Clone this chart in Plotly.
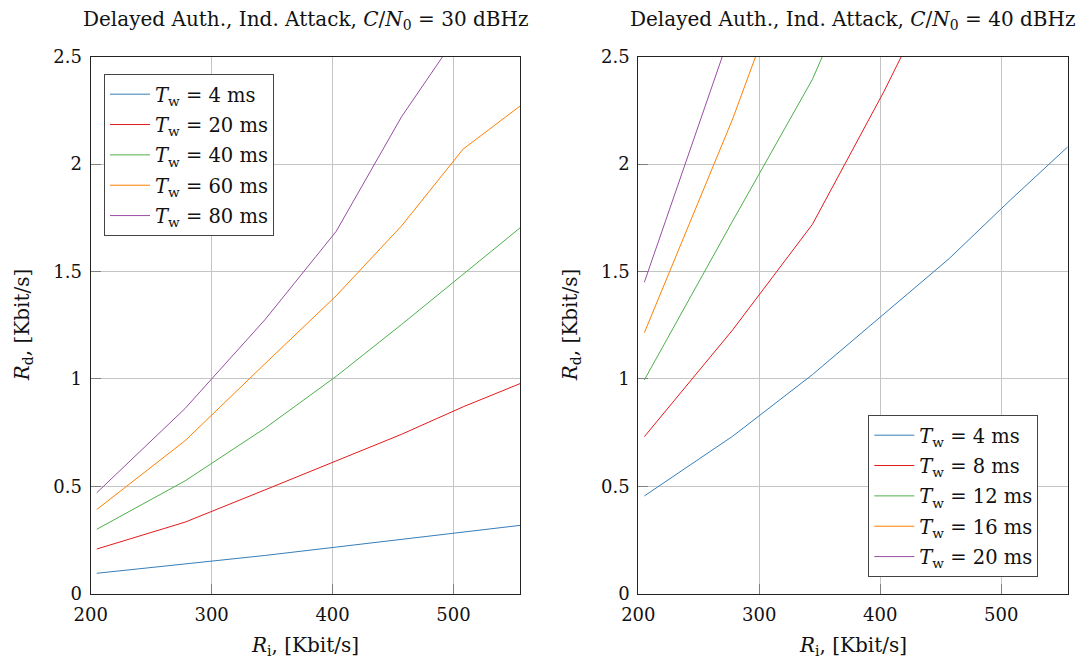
import plotly.graph_objects as go

# ---------------- data ----------------
ri = [205, 278, 344, 403, 457, 508, 555]

left_labels = ["4", "20", "40", "60", "80"]
left_4 = [0.095, 0.137, 0.178, 0.217, 0.253, 0.287, 0.318]
left_20 = [0.208, 0.333, 0.483, 0.620, 0.742, 0.870, 0.978]
left_40 = [0.300, 0.525, 0.770, 1.012, 1.253, 1.487, 1.703]
left_60 = [0.392, 0.712, 1.070, 1.387, 1.712, 2.070, 2.270]
left_80 = [0.470, 0.862, 1.275, 1.687, 2.220, 2.640, 3.000]

right_labels = ["4", "8", "12", "16", "20"]
right_4 = [0.455, 0.733, 1.020, 1.300, 1.560, 1.835, 2.080]
right_8 = [0.731, 1.228, 1.720, 2.337, 2.950, 3.500, 4.000]
right_12 = [0.995, 1.735, 2.395, 3.160, 3.800, 4.400, 5.000]
right_16 = [1.215, 2.210, 3.220, 4.100, 4.900, 5.600, 6.200]
right_20 = [1.450, 2.640, 3.700, 4.700, 5.600, 6.400, 7.100]

titles = [
    "Delayed Auth., Ind. Attack, <i>C</i>/<i>N</i><sub>0</sub> = 30 dBHz",
    "Delayed Auth., Ind. Attack, <i>C</i>/<i>N</i><sub>0</sub> = 40 dBHz",
]
xlabel = "<i>R</i><sub>i</sub>, [Kbit/s]"
ylabel = "<i>R</i><sub>d</sub>, [Kbit/s]"
yticks = [0, 0.5, 1, 1.5, 2, 2.5]
ytick_text = ["0", "0.5", "1", "1.5", "2", "2.5"]
xticks = [200, 300, 400, 500]

colors = ["#377EB8", "#E41A1C", "#4DAF4A", "#FF7F00", "#984EA3"]

FONT = "DejaVu Serif"
W, H = 1084, 664

fig = go.Figure()

left_series = [left_4, left_20, left_40, left_60, left_80]
right_series = [right_4, right_8, right_12, right_16, right_20]

for i, (lab, ys, c) in enumerate(zip(left_labels, left_series, colors)):
    fig.add_trace(go.Scatter(
        x=ri, y=ys, mode="lines", line=dict(color=c, width=1),
        name=f"<i>T</i><sub>w</sub> = {lab} ms", legendgroup=f"L{i}",
        xaxis="x", yaxis="y", legend="legend"))

for i, (lab, ys, c) in enumerate(zip(right_labels, right_series, colors)):
    fig.add_trace(go.Scatter(
        x=ri, y=ys, mode="lines", line=dict(color=c, width=1),
        name=f"<i>T</i><sub>w</sub> = {lab} ms", legendgroup=f"R{i}",
        xaxis="x2", yaxis="y2", legend="legend2"))

def px_x(p):
    return p / W

def px_y(p):
    return 1 - p / H

TOP, BOT = 56.7, 593.7
dom_y = [px_y(BOT), px_y(TOP)]
dom_x1 = [px_x(90.7), px_x(520.0)]
dom_x2 = [px_x(638.3), px_x(1067.7)]

axis_common = dict(
    showgrid=True, gridcolor="#c4c4c4", gridwidth=1,
    showline=True, linecolor="#222", linewidth=1.2, mirror=True,
    ticks="inside", ticklen=10, tickcolor="#808080", tickwidth=1.2,
    tickfont=dict(family=FONT, size=18, color="#111"),
    zeroline=False, automargin=False,
)

leg_common = dict(
    bgcolor="white", bordercolor="#444", borderwidth=1,
    font=dict(family=FONT, size=19.5, color="#111"),
    tracegroupgap=2, itemwidth=40, entrywidth=140, entrywidthmode="pixels",
)

fig.update_layout(
    width=W, height=H,
    margin=dict(l=0, r=0, t=0, b=0),
    paper_bgcolor="white", plot_bgcolor="white",
    font=dict(family=FONT, color="#111"),
    xaxis=dict(domain=dom_x1, range=[200, 555], tickvals=xticks, anchor="y",
               ticklabelstandoff=5, **axis_common),
    yaxis=dict(domain=dom_y, range=[0, 2.5], tickvals=yticks, ticktext=ytick_text, anchor="x",
               ticklabelstandoff=4, **axis_common),
    xaxis2=dict(domain=dom_x2, range=[200, 555], tickvals=xticks, anchor="y2",
                ticklabelstandoff=5, **axis_common),
    yaxis2=dict(domain=dom_y, range=[0, 2.5], tickvals=yticks, ticktext=ytick_text, anchor="x2",
                ticklabelstandoff=4, **axis_common),
    legend=dict(x=px_x(104), y=px_y(74), xanchor="left", yanchor="top", **leg_common),
    legend2=dict(x=px_x(868.3), y=px_y(577), xanchor="left", yanchor="bottom", **leg_common),
    showlegend=True,
)

ann = []
for dx, t in [(dom_x1, titles[0]), (dom_x2, titles[1])]:
    cx = (dx[0] + dx[1]) / 2
    ann.append(dict(text=t, x=cx, y=px_y(20), xref="paper", yref="paper",
                    xanchor="center", yanchor="middle", showarrow=False,
                    font=dict(family=FONT, size=20, color="#111")))
    ann.append(dict(text=xlabel, x=cx, y=px_y(646), xref="paper", yref="paper",
                    xanchor="center", yanchor="middle", showarrow=False,
                    font=dict(family=FONT, size=20, color="#111")))
for xp in [23, 571]:
    ann.append(dict(text=ylabel, x=px_x(xp), y=(dom_y[0] + dom_y[1]) / 2,
                    xref="paper", yref="paper", xanchor="center", yanchor="middle",
                    textangle=-90, showarrow=False,
                    font=dict(family=FONT, size=20, color="#111")))
fig.update_layout(annotations=ann)

fig.write_html("out.html")
